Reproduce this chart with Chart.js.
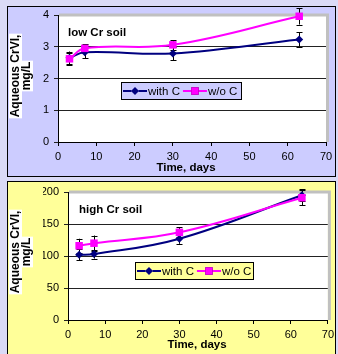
<!DOCTYPE html>
<html>
<head>
<meta charset="utf-8">
<script src="https://cdn.jsdelivr.net/npm/chart.js@4"></script>
<style>
  body { margin: 0; width: 338px; height: 354px; overflow: hidden; position: relative;
         background: #dadaf6; font-family: "Liberation Sans", Arial, sans-serif; }
  .box { position: absolute; left: 7px; width: 329px; box-sizing: border-box; border: 1px solid #000; }
  #box1 { top: 6px; height: 171px; background: #ccccff; }
  #box2 { top: 181px; height: 180px; background: #ffff99; }
  canvas { position: absolute; left: 0; }
  #lowChart { top: 0; }
  #highChart { top: 177px; }
</style>
</head>
<body>
<div class="box" id="box1"></div>
<div class="box" id="box2"></div>
<canvas id="lowChart" width="338" height="177"></canvas>
<canvas id="highChart" width="338" height="177"></canvas>
<script>
// time points (days)
const days = [3, 7, 30, 63];
const seriesLabels = ['with C', 'w/o C'];

// low Cr soil, mg/L
const lowWithC = [2.65, 2.83, 2.79, 3.23];
const lowWithCErr = [0.2, 0.2, 0.21, 0.23];
const lowNoC = [2.62, 2.95, 3.06, 3.96];
const lowNoCErr = [0.18, 0.13, 0.15, 0.26];

// high Cr soil, mg/L
const highWithC = [102, 103, 127, 195];
const highWithCErr = [9, 7, 8, 9];
const highNoC = [116, 120, 137, 191];
const highNoCErr = [11, 12, 8, 12];

// axis ticks
const xTicks = [0, 10, 20, 30, 40, 50, 60, 70];
const lowYTicks = [0, 1, 2, 3, 4];
const highYTicks = [0, 50, 100, 150, 200];

const FONT = '"Liberation Sans", Arial, sans-serif';
const NAVY = '#000080';
const MAGENTA = '#ff00ff';

function pts(ys) {
    return days.map((d, i) => ({ x: d, y: ys[i] }));
}

// white plot area, grey shadow on top/right, error bars
const plotFrame = {
    id: 'plotFrame',
    beforeDraw(chart) {
        const a = chart.chartArea, ctx = chart.ctx;
        ctx.save();
        ctx.fillStyle = '#fff';
        ctx.fillRect(a.left, a.top, a.right - a.left, a.bottom - a.top);
        ctx.restore();
    },
    beforeDatasetsDraw(chart) {
        const a = chart.chartArea, ctx = chart.ctx;
        ctx.save();
        ctx.strokeStyle = '#c0c0c0';
        ctx.lineWidth = 3;
        ctx.beginPath();
        ctx.moveTo(a.left + 1, a.top);
        ctx.lineTo(a.right + 3, a.top);
        ctx.moveTo(a.right + 1.5, a.top);
        ctx.lineTo(a.right + 1.5, a.bottom);
        ctx.stroke();

        // error bars
        const xs = chart.scales.x, ys = chart.scales.y;
        ctx.strokeStyle = '#000';
        ctx.lineWidth = 1;
        chart.data.datasets.forEach(ds => {
            ds.data.forEach((p, i) => {
                const e = ds.errors[i];
                const px = Math.round(xs.getPixelForValue(p.x)) + 0.5;
                const y1 = ys.getPixelForValue(p.y + e);
                const y2 = ys.getPixelForValue(p.y - e);
                ctx.beginPath();
                ctx.moveTo(px, y1); ctx.lineTo(px, y2);
                ctx.moveTo(px - 3, Math.round(y1) + 0.5); ctx.lineTo(px + 3, Math.round(y1) + 0.5);
                ctx.moveTo(px - 3, Math.round(y2) + 0.5); ctx.lineTo(px + 3, Math.round(y2) + 0.5);
                ctx.stroke();
            });
        });
        ctx.restore();
    }
};

// axis titles, soil label and legend box
const labels = {
    id: 'labels',
    afterDraw(chart, args, o) {
        const ctx = chart.ctx;
        ctx.save();
        ctx.fillStyle = '#000';

        // y title, two lines with white highlight
        ctx.font = 'bold 12px ' + FONT;
        ctx.translate(o.yTitle.x, o.yTitle.y);
        ctx.rotate(-Math.PI / 2);
        ctx.textAlign = 'center';
        ctx.textBaseline = 'middle';
        o.yTitle.lines.forEach((t, i) => {
            const dy = (i - 0.5) * 11;
            const w = ctx.measureText(t).width;
            ctx.fillStyle = '#fff';
            ctx.fillRect(-w / 2 - 1, dy - 6.5, w + 2, 13);
            ctx.fillStyle = '#000';
            ctx.fillText(t, 0, dy + 0.5);
        });
        ctx.setTransform(1, 0, 0, 1, 0, 0);

        // x title
        ctx.font = 'bold 11.5px ' + FONT;
        ctx.fillText(o.xTitle.text, o.xTitle.x, o.xTitle.y);

        // soil label
        ctx.textAlign = 'left';
        ctx.fillText(o.note.text, o.note.x, o.note.y);

        // legend
        const L = o.legend;
        ctx.fillStyle = L.bg;
        ctx.fillRect(L.x, L.y, L.w, L.h);
        ctx.strokeStyle = '#000';
        ctx.lineWidth = 1;
        ctx.strokeRect(L.x + 0.5, L.y + 0.5, L.w - 1, L.h - 1);
        ctx.font = '11.5px ' + FONT;
        const cy = L.y + L.h / 2;
        let x = L.x + 2;
        chart.data.datasets.forEach(ds => {
            ctx.strokeStyle = ds.borderColor;
            ctx.lineWidth = 2;
            ctx.beginPath();
            ctx.moveTo(x, cy); ctx.lineTo(x + 24, cy);
            ctx.stroke();
            Chart.helpers.drawPoint(ctx, {
                pointStyle: ds.pointStyle, radius: ds.pointRadius, borderWidth: 0
            }, x + 12, cy);
            ctx.fillStyle = ds.backgroundColor;
            ctx.fill();
            ctx.fillStyle = '#000';
            ctx.fillText(ds.label, x + 25, cy + 0.5);
            x += 25 + ctx.measureText(ds.label).width + 3;
        });
        ctx.restore();
    }
};

function makeChart(id, withC, withCErr, noC, noCErr, yTicks, lay) {
    const ctx = document.getElementById(id).getContext('2d');
    return new Chart(ctx, {
        type: 'line',
        data: {
            datasets: [{
                label: seriesLabels[0],
                data: pts(withC),
                errors: withCErr,
                borderColor: NAVY,
                backgroundColor: NAVY,
                borderWidth: 2,
                pointStyle: 'rectRot',
                pointRadius: 4,
                pointBorderWidth: 0,
                tension: 0.4,
                order: 1
            }, {
                label: seriesLabels[1],
                data: pts(noC),
                errors: noCErr,
                borderColor: MAGENTA,
                backgroundColor: MAGENTA,
                borderWidth: 2,
                pointStyle: 'rect',
                pointRadius: 5.3,
                pointBorderWidth: 0,
                tension: 0.4,
                order: 0
            }]
        },
        options: {
            responsive: false,
            animation: false,
            clip: false,
            layout: { padding: lay.padding },
            scales: {
                x: {
                    type: 'linear',
                    min: xTicks[0],
                    max: xTicks[xTicks.length - 1],
                    afterFit: s => { s.height = lay.xHeight; },
                    afterBuildTicks: s => { s.ticks = xTicks.map(v => ({ value: v })); },
                    border: { color: '#000', width: 1 },
                    grid: { drawOnChartArea: false, drawTicks: true, tickLength: 4, color: '#000' },
                    ticks: { color: '#000', padding: 4, maxRotation: 0, font: { family: FONT, size: 11 } }
                },
                y: {
                    min: yTicks[0],
                    max: yTicks[yTicks.length - 1],
                    afterFit: s => { s.width = lay.yWidth; },
                    afterBuildTicks: s => { s.ticks = yTicks.map(v => ({ value: v })); },
                    border: { color: '#000', width: 1 },
                    grid: { color: '#222', tickLength: 4, drawTicks: true },
                    ticks: { color: '#000', padding: 5, font: { family: FONT, size: 11 } }
                }
            },
            plugins: {
                legend: { display: false },
                tooltip: { enabled: false },
                labels: lay.labels
            }
        },
        plugins: [plotFrame, labels]
    });
}

makeChart('lowChart', lowWithC, lowWithCErr, lowNoC, lowNoCErr, lowYTicks, {
    padding: { left: 38, right: 12, top: 15, bottom: 0 },
    yWidth: 20,
    xHeight: 35,
    labels: {
        yTitle: { x: 21, y: 76, lines: ['Aqueous CrVI,', 'mg/L'] },
        xTitle: { text: 'Time, days', x: 186, y: 168 },
        note: { text: 'low Cr soil', x: 68, y: 33 },
        legend: { x: 121, y: 82, w: 121, h: 18, bg: '#ccccff' }
    }
});

makeChart('highChart', highWithC, highWithCErr, highNoC, highNoCErr, highYTicks, {
    padding: { left: 43, right: 9, top: 15, bottom: 0 },
    yWidth: 25,
    xHeight: 34,
    labels: {
        yTitle: { x: 21, y: 75, lines: ['Aqueous CrVI,', 'mg/L'] },
        xTitle: { text: 'Time, days', x: 197, y: 168 },
        note: { text: 'high Cr soil', x: 79, y: 33 },
        legend: { x: 135, y: 85, w: 119, h: 18, bg: '#ffff99' }
    }
});
</script>
</body>
</html>
